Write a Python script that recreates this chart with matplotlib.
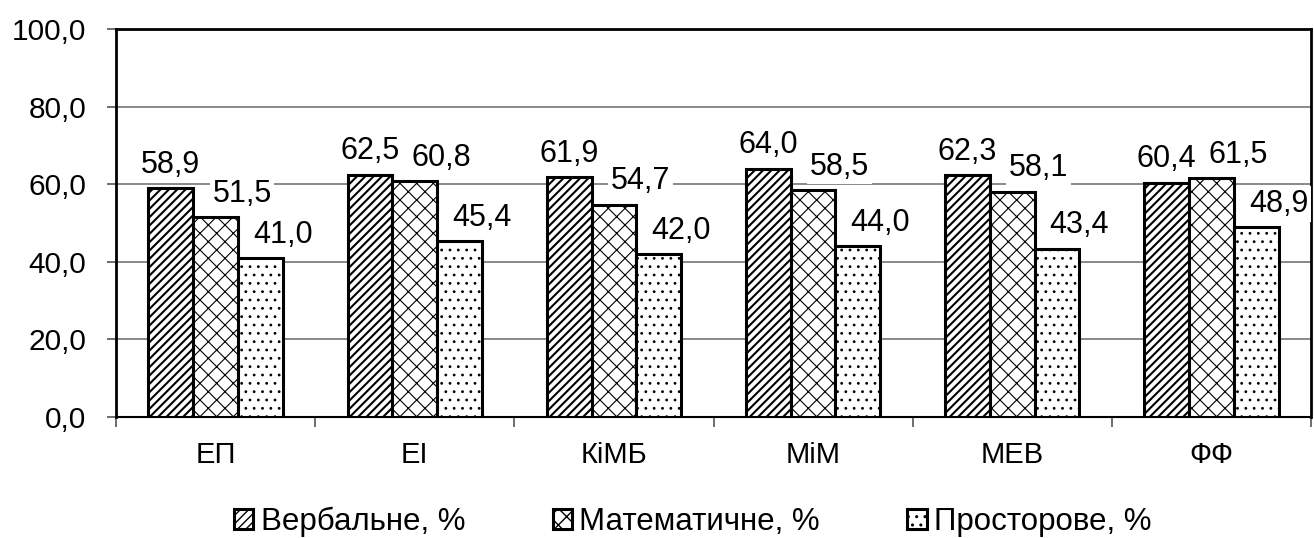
import numpy as np
import matplotlib.pyplot as plt

plt.rcParams['font.family'] = ['Liberation Sans', 'DejaVu Sans']

categories = ['ЕП', 'ЕІ', 'КіМБ', 'МіМ', 'МЕВ', 'ФФ']
verbal = [58.9, 62.5, 61.9, 64.0, 62.3, 60.4]
math_ = [51.5, 60.8, 54.7, 58.5, 58.1, 61.5]
spatial = [41.0, 45.4, 42.0, 44.0, 43.4, 48.9]
series_names = ['Вербальне, %', 'Математичне, %', 'Просторове, %']

fig = plt.figure(figsize=(13.14, 5.38), dpi=100)
ax = fig.add_axes([116 / 1314, 1 - 417 / 538, 1195 / 1314, 388 / 538])

x = np.arange(len(categories))
w = 0.225
hatches = ['////', 'xx', '..']
hatch_lw = [1.5, 0.8, 0.8]
label_dx = [0, 19, 16]   # label shift to the right, points
series = [verbal, math_, spatial]
for i, vals in enumerate(series):
    with plt.rc_context({'hatch.linewidth': hatch_lw[i]}):
        bars = ax.bar(x + (i - 1) * w, vals, w, color='white', edgecolor='black',
                      hatch=hatches[i], linewidth=2.2, label=series_names[i], zorder=3)
    for b, v in zip(bars, vals):
        ax.annotate(f"{v:.1f}".replace('.', ','),
                    (b.get_x() + b.get_width() / 2, v),
                    xytext=(label_dx[i], 11), textcoords='offset points',
                    ha='center', va='baseline', fontsize=22, zorder=4,
                    bbox=dict(facecolor='white', edgecolor='none', pad=2))

ax.set_xlim(-0.5, len(categories) - 0.5)
ax.set_ylim(0, 100)
yt = np.arange(0, 101, 20)
ax.set_yticks(yt)
ax.set_yticklabels([f"{v:.1f}".replace('.', ',') for v in yt])
ax.yaxis.grid(True, color='#808080', linewidth=1.3, zorder=0)
ax.set_axisbelow(True)

ax.set_xticks(x)
ax.set_xticklabels(categories)
ax.set_xticks(np.arange(-0.5, len(categories), 1), minor=True)
ax.tick_params(axis='x', which='major', length=0, pad=17, labelsize=21)
ax.tick_params(axis='x', which='minor', length=7, width=1.2, color='#555555')
ax.tick_params(axis='y', length=6.5, width=1.2, color='#555555', labelsize=21.5, pad=15)

for s in ['left', 'right', 'top']:
    ax.spines[s].set_linewidth(2)
ax.spines['bottom'].set_linewidth(1.5)

fig.legend(loc='center left', bbox_to_anchor=(234 / 1314, 1 - 522 / 538), ncol=3,
           frameon=False, fontsize=22.5, handlelength=0.62, handleheight=0.62,
           handletextpad=0.23, columnspacing=2.8, borderpad=0, borderaxespad=0)

fig.savefig('out.png', dpi=100)
